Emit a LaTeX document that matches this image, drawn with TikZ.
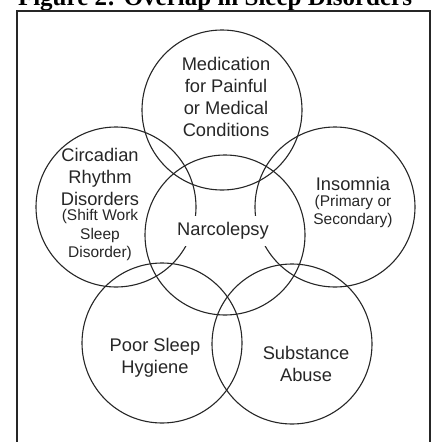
\documentclass[tikz,border=0pt]{standalone}
\usepackage{fontspec}
\setmainfont{Liberation Serif}
\setsansfont{Liberation Sans}
\usetikzlibrary{positioning}

\begin{document}
\begin{tikzpicture}[
		ring/.style={draw=black!85,line width=1.1pt},
		bigtxt/.style={font=\sffamily\fontsize{18.3}{21.7}\selectfont,align=center,text=black!85,inner sep=0pt},
		subtxt/.style={font=\sffamily\fontsize{15.5}{18.5}\selectfont,align=center,text=black!85,inner sep=0pt}
	]
	\useasboundingbox (0pt,0pt) rectangle (434pt,-442pt);
	\node[anchor=base,inner sep=0pt,font=\bfseries\fontsize{25}{30}\selectfont] (title) at (215pt,-5pt) {Figure 2: Overlap in Sleep Disorders};
	\draw[line width=1.4pt,black!85] (17pt,-11pt) rectangle (430pt,-462pt);

	\coordinate (med) at (222pt,-110pt);
	\coordinate (circ) at (116pt,-207pt);
	\coordinate (insom) at (335pt,-207pt);
	\coordinate (narc) at (225pt,-235pt);
	\coordinate (poor) at (162pt,-343pt);
	\coordinate (subst) at (292pt,-344pt);
	\foreach \c in {med,circ,insom,narc,poor,subst}
		\draw[ring] (\c) circle[radius=80pt];

	\node[bigtxt] (medtxt) at (226pt,-97pt) {Medication\\for Painful\\or Medical\\Conditions};
	\node[bigtxt] (circtxt) at (100pt,-177pt) {Circadian\\Rhythm\\Disorders};
	\node[subtxt, below=3.5pt of circtxt] (circsub) {(Shift Work\\Sleep\\Disorder)};
	\node[bigtxt] (insomtxt) at (353pt,-184pt) {Insomnia};
	\node[subtxt, below=4pt of insomtxt] (insomsub) {(Primary or\\Secondary)};
	\node[bigtxt, fill=white, inner xsep=6pt, inner ysep=6.5pt] (narctxt) at (223pt,-231pt) {Narcolepsy};
	\node[bigtxt] (poortxt) at (155pt,-358pt) {Poor Sleep\\Hygiene};
	\node[bigtxt] (substtxt) at (306pt,-364pt) {Substance\\Abuse};
\end{tikzpicture}
\end{document}
